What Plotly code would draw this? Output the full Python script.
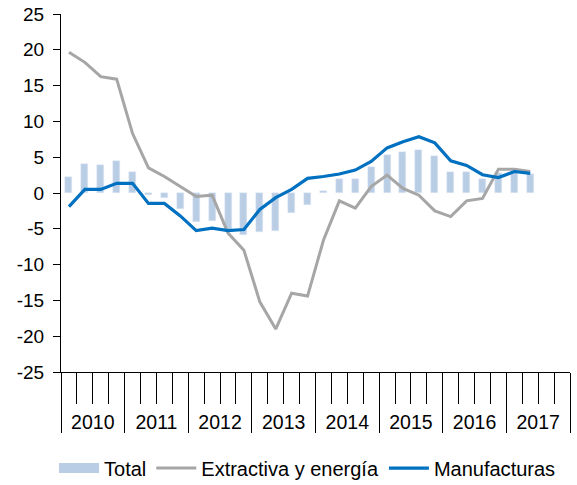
import plotly.graph_objects as go

years = ["2010", "2011", "2012", "2013", "2014", "2015", "2016", "2017"]
y_ticks = [-25, -20, -15, -10, -5, 0, 5, 10, 15, 20, 25]

# quarterly series, 2010Q1 .. 2017Q2
total = [2.3, 4.0, 3.9, 4.5, 2.9, -0.3, -0.75, -2.3, -4.0, -3.9,
         -5.3, -5.9, -5.45, -5.3, -2.8, -1.7, 0.25, 1.9, 1.9, 3.7,
         5.3, 5.7, 6.05, 5.1, 2.9, 2.9, 1.9, 2.8, 3.0, 2.7]
extractiva = [19.65, 18.25, 16.25, 15.9, 8.3, 3.5, 2.3, 0.9, -0.5, -0.3,
              -5.6, -8.0, -15.2, -19.0, -14.0, -14.4, -6.6, -1.1, -2.1, 0.9,
              2.5, 0.65, -0.3, -2.5, -3.3, -1.1, -0.75, 3.3, 3.3, 3.0]
manufacturas = [-1.9, 0.5, 0.5, 1.35, 1.35, -1.45, -1.45, -3.2, -5.25, -4.9,
                -5.25, -5.1, -2.3, -0.65, 0.5, 2.05, 2.3, 2.65, 3.2, 4.4,
                6.3, 7.15, 7.85, 7.0, 4.5, 3.85, 2.55, 2.15, 3.0, 2.75]

n_quarters = 4 * len(years)
xq = [i + 0.5 for i in range(len(total))]

FONT = "Liberation Sans, Arial, sans-serif"
BAR = "#B9CDE5"
GREY = "#A6A6A6"
BLUE = "#0070C0"

fig = go.Figure()
fig.add_trace(go.Bar(x=xq, y=total, width=0.44, marker_color=BAR,
                     name="Total", showlegend=False))
# legend proxy so the swatch is a wide band like the original
fig.add_trace(go.Scatter(x=[None], y=[None], mode="lines", name="Total",
                         line=dict(color=BAR, width=10)))
fig.add_trace(go.Scatter(x=xq, y=extractiva, mode="lines", name="Extractiva y energía",
                         line=dict(color=GREY, width=3)))
fig.add_trace(go.Scatter(x=xq, y=manufacturas, mode="lines", name="Manufacturas",
                         line=dict(color=BLUE, width=3.2)))
# invisible trace carrying the year labels axis
fig.add_trace(go.Scatter(x=[None], y=[None], xaxis="x2", showlegend=False))

fig.update_layout(
    width=577,
    height=485,
    margin=dict(l=61, r=7, t=14, b=113),
    plot_bgcolor="white",
    paper_bgcolor="white",
    font=dict(family=FONT, size=19, color="#000000"),
    bargap=0,
    xaxis=dict(
        range=[0, n_quarters],
        tickmode="array",
        tickvals=list(range(0, n_quarters + 1, 4)),
        showticklabels=False,
        ticks="outside",
        ticklen=60,
        tickcolor="black",
        tickwidth=1,
        minor=dict(tickmode="array", tickvals=list(range(n_quarters + 1)),
                   ticks="outside", ticklen=31, tickcolor="black", tickwidth=1),
        showline=True,
        linecolor="black",
        linewidth=1,
        showgrid=False,
        zeroline=False,
        automargin=False,
    ),
    xaxis2=dict(
        overlaying="x",
        range=[0, n_quarters],
        tickmode="array",
        tickvals=[4 * i + 2 for i in range(len(years))],
        ticktext=years,
        ticks="",
        ticklabelstandoff=36,
        side="bottom",
        anchor="y",
        showline=False,
        showgrid=False,
        zeroline=False,
        automargin=False,
        tickfont=dict(size=19.5),
    ),
    yaxis=dict(
        range=[-25, 25],
        tickmode="array",
        tickvals=y_ticks,
        ticktext=[str(v) for v in y_ticks],
        ticks="outside",
        ticklen=7,
        tickcolor="black",
        showline=True,
        linecolor="black",
        linewidth=1,
        showgrid=False,
        zeroline=False,
        automargin=False,
        ticklabeloverflow="allow",
        ticklabelstandoff=5,
        tickfont=dict(size=19),
    ),
    legend=dict(
        orientation="h",
        xref="container",
        yref="container",
        x=0.533,
        xanchor="center",
        y=0.035,
        yanchor="middle",
        font=dict(size=20),
        itemwidth=40,
        bgcolor="rgba(0,0,0,0)",
    ),
)

# drop the default page margin so the figure sits at the window origin
fig.write_html("out.html", config={"displayModeBar": False},
               post_script="document.body.style.margin = '0';")
